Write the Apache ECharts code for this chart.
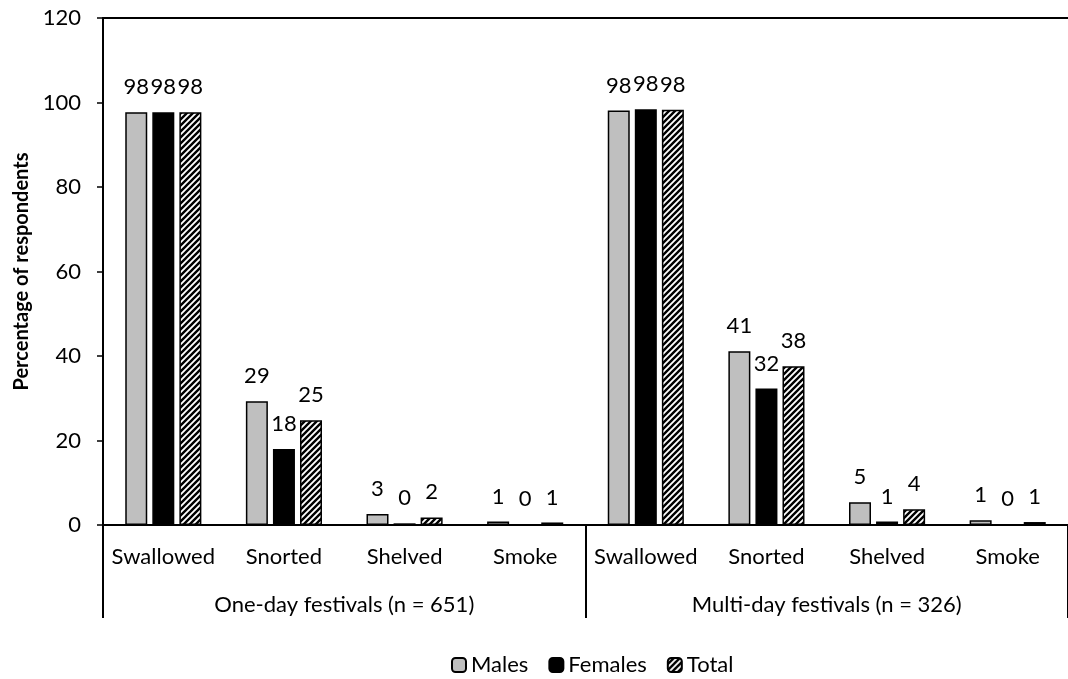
<!DOCTYPE html>
<html>
<head>
<meta charset="utf-8">
<script src="https://cdn.jsdelivr.net/npm/echarts@6/dist/echarts.min.js"></script>
<style>html,body{margin:0;padding:0;background:#fff;}#c{width:1068px;height:679px;}</style>
</head>
<body>
<div id="c"></div>
<script>
const categories = ['Swallowed','Snorted','Shelved','Smoke','Swallowed','Snorted','Shelved','Smoke'];
const groups = ['One-day festivals (n = 651)','Multi-day festivals (n = 326)'];
const males   = [97.7, 29.3, 2.6, 0.8, 98.1, 41.1, 5.4, 1.1];
const females = [97.7, 18.0, 0.4, 0.0, 98.4, 32.3, 0.8, 0.0];
const total   = [97.7, 24.8, 1.8, 0.6, 98.3, 37.6, 3.7, 0.7];
const yTicks = [0, 20, 40, 60, 80, 100, 120];

const FONT = 'Lato';
const FS = 22;

function hatch() {
  const s = 6;
  const c = document.createElement('canvas');
  c.width = s; c.height = s;
  const g = c.getContext('2d');
  g.fillStyle = '#fff'; g.fillRect(0,0,s,s);
  g.strokeStyle = '#000'; g.lineWidth = 2.4;
  g.beginPath();
  g.moveTo(-1, s+1); g.lineTo(s+1, -1);
  g.moveTo(-1, 1); g.lineTo(1, -1);
  g.moveTo(s-1, s+1); g.lineTo(s+1, s-1);
  g.stroke();
  return {image: c, repeat: 'repeat'};
}

const chart = echarts.init(document.getElementById('c'), null, {renderer: 'canvas'});
const lbl = {
  show: true, position: 'top', distance: 14, color: '#000',
  fontFamily: FONT, fontSize: FS,
  formatter: p => String(Math.round(p.value))
};
function ser(name, data, color) {
  return {
    name, type: 'bar', data, xAxisIndex: 0, yAxisIndex: 0,
    barWidth: 22, barGap: '23%',
    itemStyle: {color, borderColor: '#000', borderWidth: 1.5},
    label: lbl, emphasis: {disabled: true}
  };
}
chart.setOption({
  animation: false,
  textStyle: {fontFamily: FONT},
  grid: {left: 103, right: -5, top: 18, bottom: 154, containLabel: false},
  legend: {
    top: 649, left: 446, itemWidth: 14, itemHeight: 14, itemGap: 20,
    textStyle: {fontFamily: FONT, fontSize: FS, color: '#000'},
    data: ['Males','Females','Total']
  },
  xAxis: [
    {type: 'category', data: categories, position: 'bottom',
     axisLine: {show: true, lineStyle: {color: '#000', width: 2}},
     axisTick: {show: false},
     axisLabel: {color: '#000', fontFamily: FONT, fontSize: FS, margin: 21, interval: 0}},
    {type: 'category', data: groups, position: 'bottom', gridIndex: 0,
     axisLine: {show: false},
     axisTick: {show: true, length: 93, lineStyle: {color: '#000', width: 2}},
     axisLabel: {color: '#000', fontFamily: FONT, fontSize: FS, margin: 69, interval: 0}},
    {type: 'category', data: categories, position: 'top', gridIndex: 0,
     axisLine: {show: true, lineStyle: {color: '#000', width: 2}},
     axisTick: {show: false}, axisLabel: {show: false}}
  ],
  yAxis: {
    type: 'value', min: yTicks[0], max: yTicks[yTicks.length-1], interval: 20,
    name: 'Percentage of respondents', nameLocation: 'middle', nameGap: 70,
    nameTextStyle: {fontFamily: FONT, fontSize: 20, fontWeight: 'bold', color: '#000'},
    axisLine: {show: true, lineStyle: {color: '#000', width: 2}},
    axisTick: {show: true, length: 6, lineStyle: {color: '#000', width: 1.5}},
    axisLabel: {color: '#000', fontFamily: FONT, fontSize: FS, margin: 22},
    splitLine: {show: false}
  },
  series: [
    ser('Males', males, '#bfbfbf'),
    ser('Females', females, '#000000'),
    ser('Total', total, hatch())
  ]
});
</script>
</body>
</html>
